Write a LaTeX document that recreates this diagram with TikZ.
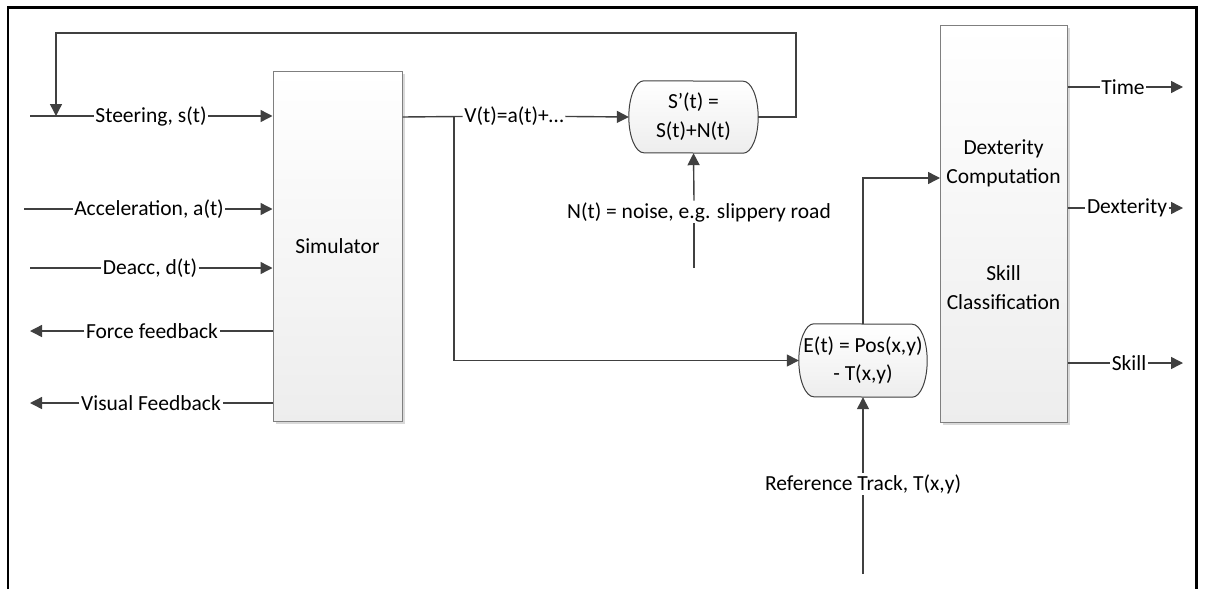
\documentclass[tikz,border=0pt]{standalone}
\usepackage{fontspec}
\setmainfont{Carlito}
\usetikzlibrary{arrows.meta,shadows,backgrounds,positioning}
\definecolor{linje}{HTML}{404040}
\definecolor{ramme}{HTML}{7F7F7F}

\begin{document}
\begin{tikzpicture}[x=1pt, y=-1pt,
		font=\fontsize{21.5}{29}\selectfont,
		wire/.style={draw=linje, line width=1.4pt},
		pil/.style={wire, -{Triangle[length=12pt, width=12pt]}},
		blokk/.style={draw=ramme, line width=1pt, top color=white, bottom color=gray!14,
			drop shadow={shadow xshift=3pt, shadow yshift=-3pt, fill=gray!30, opacity=1}},
		rund/.style={align=center, inner sep=1pt},
		stadion/.style={draw=linje, line width=1pt, top color=white, bottom color=gray!14},
		etikett/.style={fill=white, inner sep=1.5pt}]

		\useasboundingbox (0,0) rectangle (1206,589);

		% Ramme rundt figuren
		\draw[line width=2.5pt] (8,589) -- (8,7.5) -- (1196.5,7.5) -- (1196.5,589);

		% Blokker
		\node[blokk, minimum width=129pt, minimum height=350pt] (sim) at (337.5,246) {Simulator};
		\node[blokk, minimum width=127pt, minimum height=397pt] (dex) at (1003.5,223.5) {};
		\node[align=center] (dextxt) at (1003.5,163) {Dexterity\\Computation};
		\node[align=center] (skilltxt) at (1003.5,288) {Skill\\Classification};
		\node[rund, minimum width=129pt, minimum height=72pt] (noisy) at (693.5,117) {S’(t) =\\S(t)+N(t)};
		\node[rund, minimum width=128pt, minimum height=73pt] (err) at (863,360.5) {E(t) = Pos(x,y)\\[-1pt]- T(x,y)};

		% Avrundede kanter bak teksten
		\begin{scope}[on background layer]
			\draw[stadion] ([xshift=15pt]noisy.north west) arc[start angle=90, end angle=270, x radius=15pt, y radius=36pt]
				-- ([xshift=-15pt]noisy.south east) arc[start angle=-90, end angle=90, x radius=15pt, y radius=36pt] -- cycle;
			\draw[stadion] ([xshift=15pt]err.north west) arc[start angle=90, end angle=270, x radius=15pt, y radius=36.5pt]
				-- ([xshift=-15pt]err.south east) arc[start angle=-90, end angle=90, x radius=15pt, y radius=36.5pt] -- cycle;
		\end{scope}

		% Innganger til simulatoren
		\coordinate (steer) at (30,116);
		\coordinate (acc) at (24,209);
		\coordinate (dec) at (30,268);
		\node[etikett] (lsteer) at (151,116) {Steering, s(t)};
		\node[etikett] (lacc) at (149,209) {Acceleration, a(t)};
		\node[etikett] (ldec) at (150,268) {Deacc, d(t)};
		\draw[pil] (steer) -- (lsteer) -- (lsteer -| sim.west);
		\draw[pil] (acc) -- (lacc) -- (lacc -| sim.west);
		\draw[pil] (dec) -- (ldec) -- (ldec -| sim.west);

		% Tilbakemeldinger
		\coordinate (force) at (30,331);
		\coordinate (visual) at (30,403);
		\node[etikett] (lforce) at (152,331) {Force feedback};
		\node[etikett] (lvisual) at (151,403) {Visual Feedback};
		\draw[pil] (lforce -| sim.west) -- (lforce) -- (force);
		\draw[pil] (lvisual -| sim.west) -- (lvisual) -- (visual);

		% Hastighet og støy
		\node[etikett] (lv) at (514,116) {V(t)=a(t)+…};
		\draw[pil] (noisy -| sim.east) -- (lv) -- (noisy.west);
		\coordinate (br) at (454,116);
		\draw[pil] (br) |- (err.west);
		\coordinate (nsrc) at (694,268);
		\node[etikett] (lnoise) at (699,212) {N(t) = noise, e.g. slippery road};
		\draw[wire] (nsrc) -- (nsrc |- lnoise.south);
		\draw[pil] (nsrc |- lnoise.north) -- (noisy.south);

		% Tilbakekobling til styringen
		\coordinate (fbr) at (796,33);
		\coordinate (fbin) at (56,116);
		\draw[pil] (noisy.east) -| (fbr) -| (fbin);

		% Referansespor og avvik
		\coordinate (rsrc) at (863,574);
		\node[etikett] (lref) at (863,484) {Reference Track, T(x,y)};
		\draw[pil] (rsrc) -- (lref) -- (err.south);
		\coordinate (dexin) at (940,178);
		\draw[pil] (err.north) |- (dexin);

		% Utganger
		\coordinate (tout) at (1183,87);
		\coordinate (dout) at (1183,208);
		\coordinate (sout) at (1183,363);
		\node[etikett] (ltime) at (1123,87) {Time};
		\node[etikett] (ldex) at (1127,208) {Dexterity};
		\node[etikett] (lskill) at (1129,363) {Skill};
		\draw[pil] (tout -| dex.east) -- (ltime) -- (tout);
		\draw[pil] (dout -| dex.east) -- (ldex) -- (dout);
		\draw[pil] (sout -| dex.east) -- (lskill) -- (sout);
	\end{tikzpicture}
\end{document}
